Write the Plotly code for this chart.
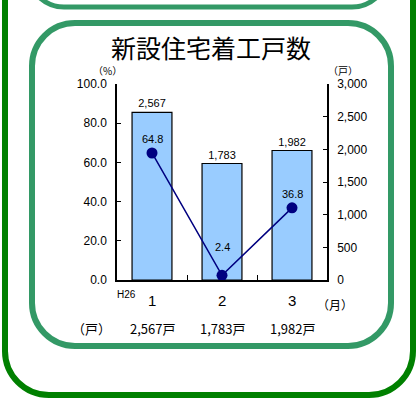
import plotly.graph_objects as go

W, H = 418, 401

months = ["1", "2", "3"]
units = [2567, 1783, 1982]            # 戸
pct_change = [64.8, 2.4, 36.8]         # 前年同月比 (%)
unit_labels = ["2,567戸", "1,783戸", "1,982戸"]
left_ticks = [0, 20, 40, 60, 80, 100]
right_ticks = [0, 500, 1000, 1500, 2000, 2500, 3000]

NUM_FONT = "Liberation Sans, Arial, sans-serif"
JP_FONT = "Noto Sans CJK JP, sans-serif"


def px(x):
    return x / W


def py(y):
    return 1 - y / H


def rounded_rect(x0, y0, x1, y1, r):
    k = 0.5523 * r
    def P(x, y):
        return f"{px(x):.5f},{py(y):.5f}"
    d = f"M {P(x0 + r, y0)} L {P(x1 - r, y0)} "
    d += f"C {P(x1 - r + k, y0)} {P(x1, y0 + r - k)} {P(x1, y0 + r)} "
    d += f"L {P(x1, y1 - r)} "
    d += f"C {P(x1, y1 - r + k)} {P(x1 - r + k, y1)} {P(x1 - r, y1)} "
    d += f"L {P(x0 + r, y1)} "
    d += f"C {P(x0 + r - k, y1)} {P(x0, y1 - r + k)} {P(x0, y1 - r)} "
    d += f"L {P(x0, y0 + r)} "
    d += f"C {P(x0, y0 + r - k)} {P(x0 + r - k, y0)} {P(x0 + r, y0)} Z"
    return d


fig = go.Figure()
idx = list(range(len(months)))

fig.add_trace(go.Bar(
    x=idx, y=units, yaxis="y", xaxis="x",
    marker=dict(color="#99ccff", line=dict(color="black", width=1.2)),
    width=0.57,
    text=[f"{v:,}" for v in units], textposition="outside",
    textfont=dict(family=NUM_FONT, size=11, color="black"),
    cliponaxis=False,
))

fig.add_trace(go.Scatter(
    x=idx, y=pct_change, yaxis="y2", xaxis="x",
    mode="lines+markers",
    line=dict(color="#000080", width=1.5),
    marker=dict(color="#000080", size=11),
    cliponaxis=False,
))

label_shift = [6, 20, 6]
for i, v, s in zip(idx, pct_change, label_shift):
    fig.add_annotation(x=i, y=v, xref="x", yref="y2", text=f"{v:.1f}",
                       showarrow=False, xanchor="center", yanchor="bottom", yshift=s,
                       font=dict(family=NUM_FONT, size=11, color="black"))

for i, m in zip(idx, months):
    fig.add_annotation(x=i, y=py(300), xref="x", yref="paper", text=m,
                       showarrow=False, xanchor="center", yanchor="middle",
                       font=dict(family=NUM_FONT, size=15, color="black"))

for i, t in zip(idx, unit_labels):
    fig.add_annotation(x=i, y=py(328), xref="x", yref="paper", text=t,
                       showarrow=False, xanchor="center", yanchor="middle",
                       font=dict(family=JP_FONT, size=13, color="black"))

extra = [
    (127, 294, "H26", 10, NUM_FONT),
    (335, 304, "（月）", 12, JP_FONT),
    (91, 328, "（戸）", 13, JP_FONT),
    (107, 71, "（%）", 10, JP_FONT),
    (343, 71, "（戸）", 10, JP_FONT),
    (211, 47, "新設住宅着工戸数", 25, JP_FONT),
]
for x, y, t, s, f in extra:
    fig.add_annotation(x=px(x), y=py(y), xref="paper", yref="paper", text=t,
                       showarrow=False, xanchor="center", yanchor="middle",
                       font=dict(family=f, size=s, color="black"))

shapes = [
    dict(type="path", path=rounded_rect(28, -60, 388, 7, 36), line=dict(color="#339966", width=5)),
    dict(type="path", path=rounded_rect(32, 23, 391, 346, 43), line=dict(color="#339966", width=6)),
    dict(type="path", path=rounded_rect(5, -80, 413, 395, 44), line=dict(color="#008000", width=6)),
]
for s in shapes:
    s.update(xref="paper", yref="paper", layer="below")
    fig.add_shape(**s)

fig.update_layout(
    width=W, height=H, autosize=False, margin=dict(l=0, r=0, t=0, b=0, pad=0, autoexpand=False),
    paper_bgcolor="white", plot_bgcolor="rgba(0,0,0,0)",
    showlegend=False,
    xaxis=dict(domain=[px(117), px(327)], range=[-0.5, 2.5],
               tickvals=[-0.5, 0.5, 1.5, 2.5],
               showline=True, linecolor="black", linewidth=1.5,
               ticks="inside", ticklen=5, tickcolor="black",
               showticklabels=False, showgrid=False, zeroline=False, automargin=False),
    yaxis=dict(domain=[py(280), py(84)], range=[0, 3000], side="right",
               tickvals=right_ticks, ticktext=[f"{v:,}" for v in right_ticks],
               showline=True, linecolor="black", linewidth=1.5,
               ticks="inside", ticklen=4, tickcolor="black",
               tickfont=dict(family=NUM_FONT, size=12, color="black"),
               showgrid=False, zeroline=False, anchor="x", ticklabelstandoff=6, automargin=False),
    yaxis2=dict(domain=[py(280), py(84)], range=[0, 100], side="left", overlaying="y",
                tickvals=left_ticks, ticktext=[f"{v:.1f}" for v in left_ticks],
                showline=True, linecolor="black", linewidth=1.5,
                ticks="inside", ticklen=4, tickcolor="black",
                tickfont=dict(family=NUM_FONT, size=12, color="black"),
                showgrid=False, zeroline=False, anchor="x", ticklabelstandoff=6, automargin=False),
)

fig.write_html("out.html")
